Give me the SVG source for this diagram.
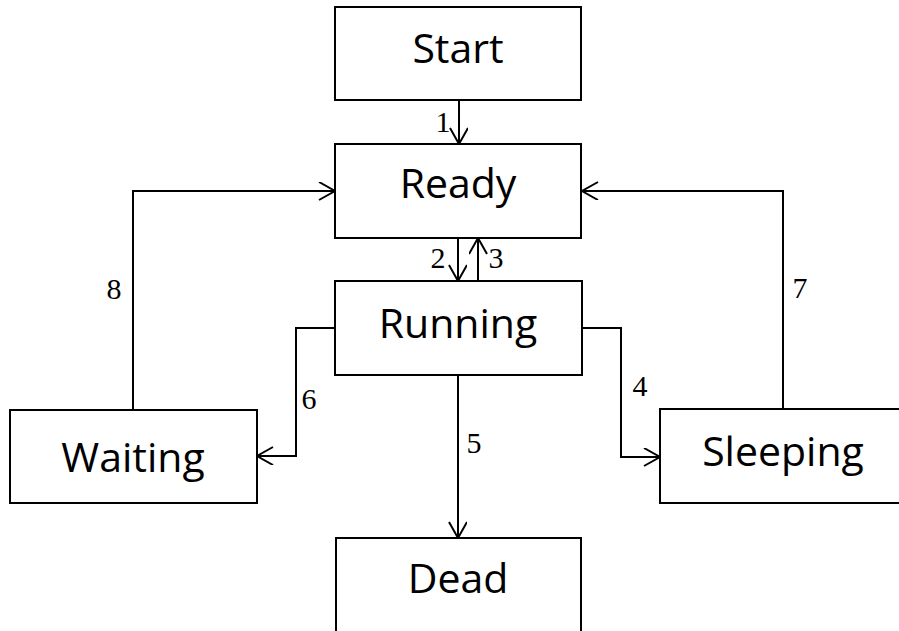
<svg xmlns="http://www.w3.org/2000/svg" width="899" height="631" viewBox="0 0 899 631">
<style>
.box{fill:#fff;stroke:#000;stroke-width:2}
.nt{font-family:"Open Sans","Liberation Sans",sans-serif;font-size:41px;fill:#000;text-anchor:middle}
.ln{fill:none;stroke:#000;stroke-width:2}
.lb{font-family:"Liberation Serif","Times New Roman",serif;font-size:30px;fill:#000;text-anchor:middle}
</style>
<defs>
<marker id="arr" viewBox="0 0 20 20" refX="17" refY="9" markerWidth="20" markerHeight="20" markerUnits="userSpaceOnUse" orient="auto">
<path d="M1,0 L17,9 L1,18" fill="none" stroke="#000" stroke-width="2"/>
</marker>
</defs>
<rect width="899" height="631" fill="#fff"/>
<g id="connectors">
<path class="ln" d="M459,100 V144" marker-end="url(#arr)"/>
<path class="ln" d="M458,238 V281" marker-end="url(#arr)"/>
<path class="ln" d="M478,281 V238" marker-end="url(#arr)"/>
<path class="ln" d="M582,328 H621 V457 H660" marker-end="url(#arr)"/>
<path class="ln" d="M458,375 V538" marker-end="url(#arr)"/>
<path class="ln" d="M335,328 H296 V456 H257" marker-end="url(#arr)"/>
<path class="ln" d="M783,409 V191 H582" marker-end="url(#arr)"/>
<path class="ln" d="M133,410 V191 H335" marker-end="url(#arr)"/>
<text class="lb" x="443" y="132">1</text>
<text class="lb" x="438" y="268">2</text>
<text class="lb" x="496" y="268">3</text>
<text class="lb" x="640" y="396">4</text>
<text class="lb" x="474" y="453">5</text>
<text class="lb" x="309" y="409">6</text>
<text class="lb" x="800" y="298">7</text>
<text class="lb" x="114" y="299">8</text>
</g>
<g id="start"><rect class="box" x="335" y="7" width="246" height="93"/><text class="nt" x="458" y="63">Start</text></g>
<g id="ready"><rect class="box" x="335" y="144" width="246" height="94"/><text class="nt" x="458" y="198">Ready</text></g>
<g id="running"><rect class="box" x="335" y="281" width="247" height="94"/><text class="nt" x="458" y="338">Running</text></g>
<g id="waiting"><rect class="box" x="10" y="410" width="247" height="93"/><text class="nt" x="133" y="472">Waiting</text></g>
<g id="sleeping"><rect class="box" x="660" y="409" width="246" height="94"/><text class="nt" x="783" y="466">Sleeping</text></g>
<g id="dead"><rect class="box" x="336" y="538" width="245" height="110"/><text class="nt" x="458" y="593">Dead</text></g>
</svg>
